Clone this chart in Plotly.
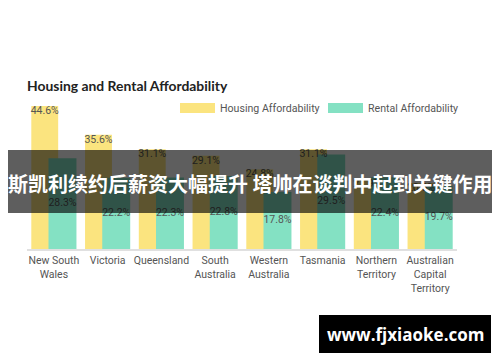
import plotly.graph_objects as go

categories = ["New South<br>Wales", "Victoria", "Queensland", "South<br>Australia",
              "Western<br>Australia", "Tasmania", "Northern<br>Territory",
              "Australian<br>Capital<br>Territory"]
housing = [44.6, 35.6, 31.1, 29.1, 24.8, 31.1, 21.9, 20.6]
rental = [28.3, 22.2, 22.3, 22.8, 17.8, 29.5, 22.4, 19.7]
series_names = ["Housing Affordability", "Rental Affordability"]
title_text = "Housing and Rental Affordability"
banner_text = "斯凯利续约后薪资大幅提升 塔帅在谈判中起到关键作用"
watermark_text = "www.fjxiaoke.com"

YELLOW = "#FBE47F"
TEAL = "#84E1C3"
OFF = 8  # page body margin
W, H = 500 - OFF, 362 - OFF
# plot area in reference pixels: x 27..457, y 97..249
L, R, T, B = 27 - OFF, 500 - 457, 97 - OFF, 362 - 249


def px_x(p):
    return (p - OFF - L) / (W - L - R)


def px_y(p):
    return (H - B - (p - OFF)) / (H - T - B)


idx = list(range(len(categories)))
h_off, h_w = -0.42, 0.5
r_off, r_w = -0.10, 0.52

fig = go.Figure()
fig.add_trace(go.Bar(x=idx, y=housing, offset=h_off, width=h_w, marker_color=YELLOW,
                     marker_line_width=0, name=series_names[0], showlegend=False,
                     hoverinfo="skip"))
fig.add_trace(go.Bar(x=idx, y=rental, offset=r_off, width=r_w, marker_color=TEAL,
                     marker_line_width=0, name=series_names[1], showlegend=False,
                     hoverinfo="skip"))
fig.add_trace(go.Scatter(x=[i + h_off + h_w / 2 for i in idx], y=housing, mode="text",
                         text=[f"{v:.1f}%" for v in housing], textposition="bottom center",
                         textfont=dict(family="Roboto", size=10.5, color="#555555"),
                         showlegend=False, hoverinfo="skip"))
fig.add_trace(go.Scatter(x=[i + r_off + r_w / 2 for i in idx], y=[v / 2 for v in rental],
                         mode="text", text=[f"{v:.1f}%" for v in rental],
                         textposition="middle center",
                         textfont=dict(family="Roboto", size=10.5, color="#555555"),
                         showlegend=False, hoverinfo="skip"))

shapes = []
annotations = []
# legend
for (x0, x1, tx, col, name) in [(180, 215, 218, YELLOW, series_names[0]),
                                (328, 363, 366, TEAL, series_names[1])]:
    shapes.append(dict(type="rect", xref="paper", yref="paper", x0=px_x(x0), x1=px_x(x1),
                       y0=px_y(113), y1=px_y(103), fillcolor=col, line_width=0, layer="above"))
    annotations.append(dict(text=name, xref="paper", yref="paper", x=px_x(tx), y=px_y(108.5),
                            xanchor="left", yanchor="middle", showarrow=False,
                            font=dict(family="Roboto", size=10.6, color="#555555")))
# banner overlay
shapes.append(dict(type="rect", xref="paper", yref="paper", x0=px_x(8), x1=px_x(493),
                   y0=px_y(213), y1=px_y(150), fillcolor="rgba(0,0,0,0.63)", line_width=0,
                   layer="above"))
annotations.append(dict(text=banner_text, xref="paper", yref="paper", x=px_x(250), y=px_y(183),
                        xanchor="center", yanchor="middle", showarrow=False,
                        font=dict(family="Noto Sans CJK SC", size=20, color="white", weight="bold")))
# watermark
shapes.append(dict(type="rect", xref="paper", yref="paper", x0=px_x(319), x1=px_x(491),
                   y0=px_y(353), y1=px_y(315), fillcolor="black", line_width=0, layer="above"))
annotations.append(dict(text=watermark_text, xref="paper", yref="paper", x=px_x(405), y=px_y(334),
                        xanchor="center", yanchor="middle", showarrow=False,
                        font=dict(family="Open Sans", size=17, color="white", weight="bold")))

fig.update_layout(
    width=W, height=H, margin=dict(l=L, r=R, t=T, b=B),
    paper_bgcolor="white", plot_bgcolor="white", barmode="overlay",
    title=dict(text=title_text, x=(27 - OFF) / W, xref="container", xanchor="left",
               y=1 - (86 - OFF) / H, yanchor="middle",
               font=dict(family="Lato", size=13.9, color="#222222", weight="bold")),
    xaxis=dict(range=[-0.5, len(categories) - 0.5], tickmode="array", tickvals=idx,
               ticktext=categories, showgrid=False, zeroline=False, showline=True,
               linecolor="#e0e0e0", linewidth=1.5, ticks="", ticklabelstandoff=1,
               tickfont=dict(family="Roboto", size=10.5, color="#555555")),
    yaxis=dict(range=[0, 47.4], visible=False, showgrid=False, zeroline=False),
    shapes=shapes, annotations=annotations,
)
fig.write_html("out.html")
